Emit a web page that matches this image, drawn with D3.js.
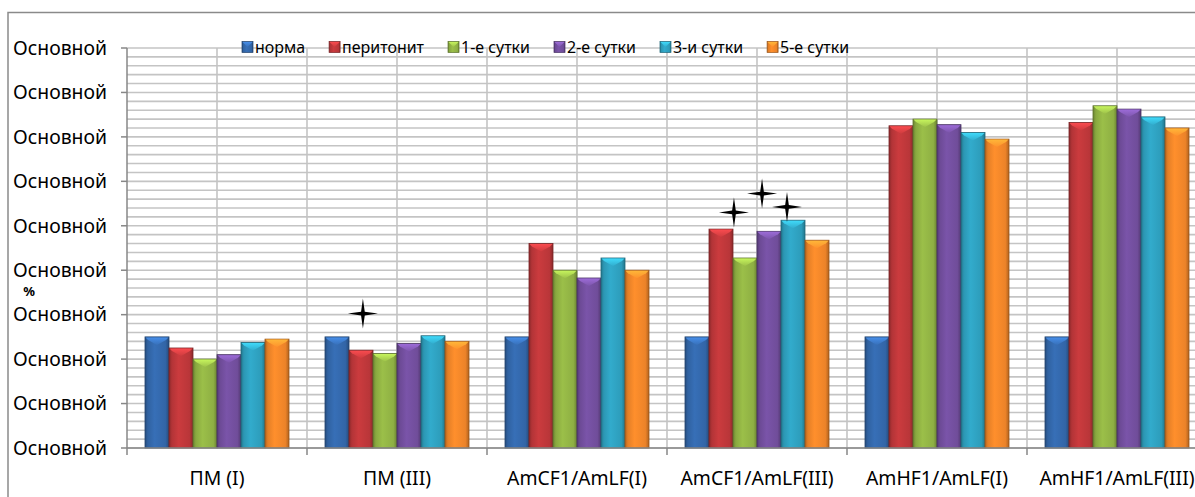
<!DOCTYPE html>
<html>
<head>
<meta charset="utf-8">
<script src="https://cdn.jsdelivr.net/npm/d3@7"></script>
<style>
  html, body { margin: 0; padding: 0; background: #fff; }
  svg { display: block; font-family: "Noto Sans", "Open Sans", sans-serif; }
</style>
</head>
<body>
<svg id="chart" width="1195" height="497"></svg>
<script>
// Categories along the x axis
const categories = ["ПМ (I)", "ПМ (III)", "AmCF1/AmLF(I)", "AmCF1/AmLF(III)", "AmHF1/AmLF(I)", "AmHF1/AmLF(III)"];

// Series (percent of norm)
const seriesNames = ["норма", "перитонит", "1-е сутки", "2-е сутки", "3-и сутки", "5-е сутки"];
const norma     = [100, 100, 100, 100, 100, 100];
const peritonit = [90, 88, 184, 197, 290, 293];
const day1      = [80, 85, 160, 171, 296, 308];
const day2      = [84, 94, 153, 195, 291, 305];
const day3      = [95, 101, 171, 205, 284, 298];
const day5      = [98, 96, 160, 187, 278, 288];
const seriesValues = [norma, peritonit, day1, day2, day3, day5];
const seriesColors = ["#3469ad", "#c0383b", "#93b545", "#7450a0", "#2fa2c1", "#f5882a"];

// Y axis ticks and their (unformatted) labels
const yTickValues = [0, 40, 80, 120, 160, 200, 240, 280, 320, 360];
const yTickLabels = ["Основной", "Основной", "Основной", "Основной", "Основной",
                     "Основной", "Основной", "Основной", "Основной", "Основной"];
const yTitle = "%";

// Significance stars: category, position inside the group (in bar widths), value level
const starCategories = ["ПМ (III)", "AmCF1/AmLF(III)", "AmCF1/AmLF(III)", "AmCF1/AmLF(III)"];
const starPositions  = [1.58, 2.04, 3.21, 4.25];
const starValues     = [121, 212, 229, 217];

const svg = d3.select("#chart");
const plotLeft = 127, plotRight = 1207, plotTop = 48, plotBottom = 448;

const x0 = d3.scaleBand().domain(categories).range([plotLeft, plotRight]).paddingInner(0.2).paddingOuter(0.1);
const x1 = d3.scaleBand().domain(d3.range(seriesNames.length)).range([0, x0.bandwidth()]);
const y = d3.scaleLinear().domain([0, 360]).range([plotBottom, plotTop]);

// chart frame
svg.append("path")
  .attr("d", "M8,497 L8,12.5 L1195,12.5")
  .attr("fill", "none").attr("stroke", "#8a8a8a").attr("stroke-width", 1.5);

// gradients for the bevelled bars
const defs = svg.append("defs");
seriesColors.forEach((c, i) => {
  const base = d3.color(c);
  const g = defs.append("linearGradient").attr("id", "body" + i)
    .attr("x1", 0).attr("x2", 1).attr("y1", 0).attr("y2", 0);
  g.append("stop").attr("offset", 0).attr("stop-color", base.darker(0.9));
  g.append("stop").attr("offset", 0.12).attr("stop-color", base.darker(0.2));
  g.append("stop").attr("offset", 0.4).attr("stop-color", base.brighter(0.15));
  g.append("stop").attr("offset", 0.85).attr("stop-color", base.darker(0.1));
  g.append("stop").attr("offset", 1).attr("stop-color", base.darker(0.9));
  const t = defs.append("linearGradient").attr("id", "cap" + i)
    .attr("x1", 0).attr("x2", 0).attr("y1", 0).attr("y2", 1);
  t.append("stop").attr("offset", 0).attr("stop-color", base.brighter(0.9));
  t.append("stop").attr("offset", 1).attr("stop-color", base.brighter(0.2));
});

// horizontal gridlines (major + minor every 8)
const gridVals = d3.range(0, 361, 8);
svg.append("g").selectAll("line").data(gridVals).join("line")
  .attr("x1", plotLeft).attr("x2", plotRight)
  .attr("y1", d => y(d)).attr("y2", d => y(d))
  .attr("stroke", "#c4c4c4").attr("stroke-width", 1.6);

// vertical gridlines at category centres and boundaries
const vLines = [];
categories.forEach((c, i) => {
  const start = x0(c) - x0.step() * x0.paddingOuter();
  vLines.push(start + x0.step() / 2);
  if (i > 0) vLines.push(start);
});
svg.append("g").selectAll("line").data(vLines).join("line")
  .attr("x1", d => d).attr("x2", d => d)
  .attr("y1", plotTop).attr("y2", plotBottom)
  .attr("stroke", "#c4c4c4").attr("stroke-width", 1.6);

// bars
const barData = [];
categories.forEach((c, ci) => {
  seriesValues.forEach((vals, si) => barData.push({ c, si, v: vals[ci] }));
});
const bars = svg.append("g").selectAll("g").data(barData).join("g")
  .attr("transform", d => `translate(${x0(d.c) + x1(d.si)},0)`);
const bw = x1.bandwidth();
bars.append("rect")
  .attr("x", 0).attr("y", d => y(d.v))
  .attr("width", bw).attr("height", d => y(0) - y(d.v))
  .attr("fill", d => `url(#body${d.si})`)
  .attr("stroke", d => d3.color(seriesColors[d.si]).darker(1.3))
  .attr("stroke-width", 0.8);
bars.append("path")
  .attr("d", d => {
    const t = y(d.v);
    return `M0.5,${t + 0.5} L${bw - 0.5},${t + 0.5} L${bw - 3},${t + 3} L${bw / 2},${t + 8} L3,${t + 3} Z`;
  })
  .attr("fill", d => `url(#cap${d.si})`)
  .attr("opacity", 0.9);

// axes
const axisColor = "#878787";
svg.append("line").attr("x1", plotLeft).attr("x2", plotLeft).attr("y1", plotTop).attr("y2", plotBottom)
  .attr("stroke", axisColor).attr("stroke-width", 1.5);
svg.append("g").selectAll("line").data(yTickValues).join("line")
  .attr("x1", plotLeft - 6).attr("x2", plotLeft)
  .attr("y1", d => y(d)).attr("y2", d => y(d))
  .attr("stroke", axisColor).attr("stroke-width", 1.5);
svg.append("line").attr("x1", plotLeft).attr("x2", plotRight).attr("y1", plotBottom).attr("y2", plotBottom)
  .attr("stroke", axisColor).attr("stroke-width", 1.5);
const bounds = categories.map(c => x0(c) - x0.step() * x0.paddingOuter());
svg.append("g").selectAll("line").data(bounds).join("line")
  .attr("x1", d => d).attr("x2", d => d)
  .attr("y1", plotBottom).attr("y2", plotBottom + 7)
  .attr("stroke", axisColor).attr("stroke-width", 1.5);

// fit font size so a sample string reaches a given width
function fitSize(sample, targetWidth, weight) {
  const t = svg.append("text").attr("font-size", 100).attr("font-weight", weight || 400).text(sample);
  const w = t.node().getComputedTextLength();
  t.remove();
  return 100 * targetWidth / w;
}
const axisFont = fitSize("Основной", 94);
const legendFont = fitSize("перитонит", 82);

// y tick labels
svg.append("g").selectAll("text").data(yTickValues).join("text")
  .attr("x", 107).attr("y", d => y(d))
  .attr("dy", "0.35em").attr("text-anchor", "end")
  .attr("font-size", axisFont).attr("fill", "#000")
  .text((d, i) => yTickLabels[i]);

// y title (sits in the gap between two tick labels)
svg.append("text").attr("x", 29).attr("y", 296)
  .attr("text-anchor", "middle").attr("font-weight", 700).attr("font-size", 13)
  .text(yTitle);

// category labels
svg.append("g").selectAll("text").data(categories).join("text")
  .attr("x", d => x0(d) + x0.bandwidth() / 2).attr("y", 478)
  .attr("dy", "0.35em").attr("text-anchor", "middle")
  .attr("font-size", axisFont).attr("fill", "#000")
  .text(d => d);

// significance stars
const starPath = (() => {
  const R = 15, r = 2.6, pts = [];
  for (let k = 0; k < 8; k++) {
    const a = -Math.PI / 2 + k * Math.PI / 4;
    const rad = k % 2 === 0 ? R : r;
    pts.push([rad * Math.cos(a), rad * Math.sin(a)]);
  }
  return "M" + pts.map(p => p.join(",")).join("L") + "Z";
})();
svg.append("g").selectAll("path").data(starCategories).join("path")
  .attr("transform", (d, i) => `translate(${x0(d) + starPositions[i] * bw},${y(starValues[i])})`)
  .attr("d", starPath).attr("fill", "#000");

// legend: entries flow left to right, each one marker + label
const legend = svg.append("g").attr("transform", "translate(0,47)");
let cursor = 242;
seriesNames.forEach((name, i) => {
  const item = legend.append("g").attr("transform", `translate(${cursor},0)`);
  item.append("rect").attr("x", 0).attr("y", -5.5).attr("width", 11).attr("height", 11)
    .attr("fill", `url(#body${i})`)
    .attr("stroke", d3.color(seriesColors[i]).darker(1.3)).attr("stroke-width", 0.7);
  item.append("path")
    .attr("d", "M0.5,-5 L10.5,-5 L5.5,0 Z")
    .attr("fill", `url(#cap${i})`).attr("opacity", 0.9);
  const label = item.append("text").attr("x", 13).attr("y", 0).attr("dy", "0.35em")
    .attr("font-size", legendFont).attr("fill", "#000").text(name);
  cursor += 13 + label.node().getComputedTextLength() + 24;
});
</script>
</body>
</html>
